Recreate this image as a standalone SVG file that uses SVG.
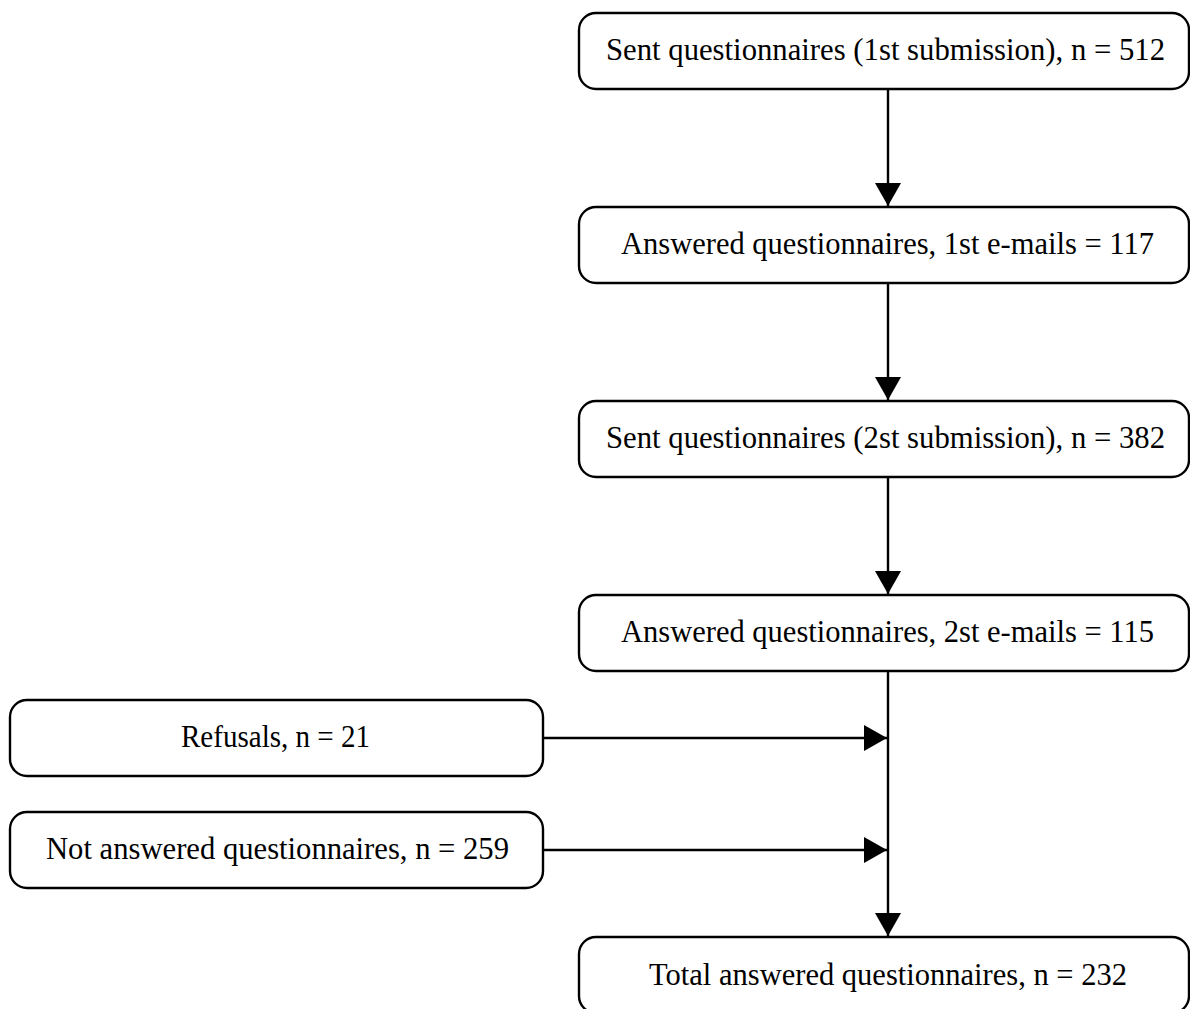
<svg xmlns="http://www.w3.org/2000/svg" width="1190" height="1009" viewBox="0 0 1190 1009">
<style>
.box{fill:#fff;stroke:#000;stroke-width:2.4}
.lbl{font-family:"Liberation Serif","DejaVu Serif",serif;font-size:31px;fill:#000;text-anchor:middle}
.conn{stroke:#000;stroke-width:2.4;fill:none}
</style>
<defs>
<marker id="ah" markerUnits="userSpaceOnUse" markerWidth="24" markerHeight="28" refX="23" refY="13" orient="auto">
<path d="M0,0 L23,13 L0,26 Z" fill="#000"/>
</marker>
</defs>
<rect width="1190" height="1009" fill="#fff"/>
<g id="connectors">
<line class="conn" x1="888" y1="89" x2="888" y2="206" marker-end="url(#ah)"/>
<line class="conn" x1="888" y1="283" x2="888" y2="400" marker-end="url(#ah)"/>
<line class="conn" x1="888" y1="477" x2="888" y2="594" marker-end="url(#ah)"/>
<line class="conn" x1="888" y1="671" x2="888" y2="936" marker-end="url(#ah)"/>
<line class="conn" x1="543" y1="738" x2="887" y2="738" marker-end="url(#ah)"/>
<line class="conn" x1="543" y1="850" x2="887" y2="850" marker-end="url(#ah)"/>
</g>
<g id="n1"><rect class="box" x="579" y="13" width="610" height="76" rx="17"/><text class="lbl" x="885.5" y="60" textLength="559" lengthAdjust="spacingAndGlyphs">Sent questionnaires (1st submission), n = 512</text></g>
<g id="n2"><rect class="box" x="579" y="207" width="610" height="76" rx="17"/><text class="lbl" x="887.5" y="254" textLength="533" lengthAdjust="spacingAndGlyphs">Answered questionnaires, 1st e-mails = 117</text></g>
<g id="n3"><rect class="box" x="579" y="401" width="610" height="76" rx="17"/><text class="lbl" x="885.5" y="448" textLength="559" lengthAdjust="spacingAndGlyphs">Sent questionnaires (2st submission), n = 382</text></g>
<g id="n4"><rect class="box" x="579" y="595" width="610" height="76" rx="17"/><text class="lbl" x="887.5" y="642" textLength="533" lengthAdjust="spacingAndGlyphs">Answered questionnaires, 2st e-mails = 115</text></g>
<g id="n5"><rect class="box" x="10" y="700" width="533" height="76" rx="17"/><text class="lbl" x="275.5" y="747" textLength="189" lengthAdjust="spacingAndGlyphs">Refusals, n = 21</text></g>
<g id="n6"><rect class="box" x="10" y="812" width="533" height="76" rx="17"/><text class="lbl" x="277.5" y="859" textLength="463" lengthAdjust="spacingAndGlyphs">Not answered questionnaires, n = 259</text></g>
<g id="n7"><rect class="box" x="579" y="937" width="610" height="76" rx="17"/><text class="lbl" x="888" y="985" textLength="478" lengthAdjust="spacingAndGlyphs">Total answered questionnaires, n = 232</text></g>
</svg>
